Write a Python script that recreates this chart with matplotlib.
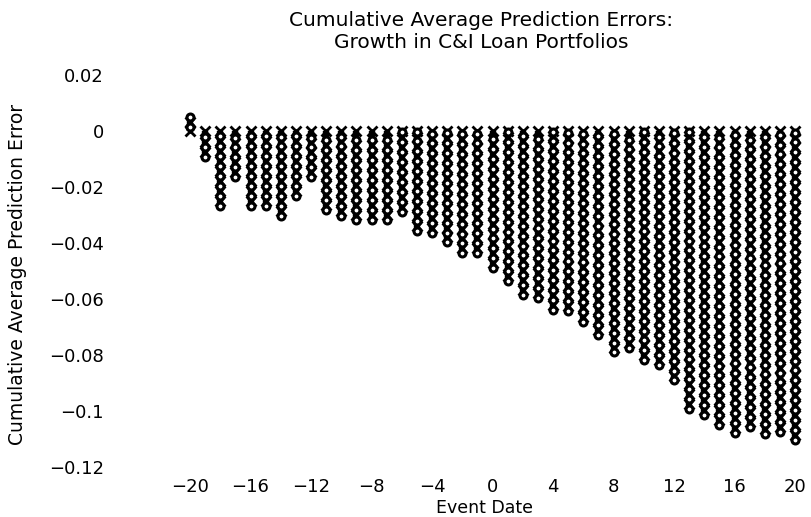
import numpy as np
import matplotlib
matplotlib.use('Agg')
import matplotlib.pyplot as plt

# event dates and cumulative average prediction errors
event_date = list(range(-20, 21))
cape = [0.005, -0.0094, -0.0267, -0.0165, -0.0267, -0.0267, -0.0303, -0.0232,
        -0.0165, -0.0281, -0.0303, -0.0317, -0.0317, -0.0317, -0.0288, -0.0356,
        -0.0363, -0.0398, -0.0437, -0.0434, -0.0490, -0.0536, -0.0586, -0.0596,
        -0.0639, -0.0643, -0.0682, -0.0727, -0.0791, -0.0774, -0.0819, -0.0834,
        -0.0891, -0.0993, -0.1014, -0.1050, -0.1078, -0.1057, -0.1082, -0.1075,
        -0.1103]
x_ticks = list(range(-20, 21, 4))
y_ticks = [0.02, 0, -0.02, -0.04, -0.06, -0.08, -0.1, -0.12]
y_labels = ['0.02', '0', '\u22120.02', '\u22120.04', '\u22120.06', '\u22120.08', '\u22120.1', '\u22120.12']

fig = plt.figure(figsize=(8.11, 5.17), dpi=100)
ax = fig.add_axes([112 / 811, 50 / 517, 688 / 811, 392 / 517])
ax.set_xlim(-25.16, 20.33)
ax.set_ylim(-0.12, 0.02)

# each bar is drawn as a stack of plot symbols, like the old line-printer style
step = 0.00354
for x, v in zip(event_date, cape):
    sgn = 1 if v > 0 else -1
    n = int(abs(v) / step)
    ys_o = v - sgn * step * np.arange(n + 1)
    ys_x = np.append(ys_o[:-1] - sgn * step / 2, 0)
    ax.plot([x, x], [0, v], color='black', lw=4.6, solid_capstyle='butt', clip_on=False)
    ax.plot(np.full(len(ys_x), x), ys_x, ls='none', marker='x', ms=6.5,
            mew=2.0, color='black', clip_on=False)
    ax.plot(np.full(len(ys_o), x), ys_o, ls='none', marker='o', ms=5.0,
            mew=2.2, mfc='white', mec='black', clip_on=False)

for s in ax.spines.values():
    s.set_visible(False)
ax.tick_params(length=0, labelsize=13)
ax.tick_params(axis='x', pad=8)
ax.tick_params(axis='y', pad=6)
ax.set_xticks(x_ticks)
ax.set_xticklabels(['\u2212' + str(-t) if t < 0 else str(t) for t in x_ticks])
ax.set_yticks(y_ticks)
ax.set_yticklabels(y_labels)

fig.text(481 / 811, 1 - 20 / 517, 'Cumulative Average Prediction Errors:',
         ha='center', va='center', fontsize=14.5)
fig.text(481 / 811, 1 - 42 / 517, 'Growth in C&I Loan Portfolios',
         ha='center', va='center', fontsize=14.5)
fig.text(485 / 811, 1 - 508 / 517, 'Event Date', ha='center', va='center', fontsize=12.5)
fig.text(18 / 811, 1 - 274 / 517, 'Cumulative Average Prediction Error',
         ha='center', va='center', rotation=90, fontsize=13.5)

fig.savefig('out.png', dpi=100)
